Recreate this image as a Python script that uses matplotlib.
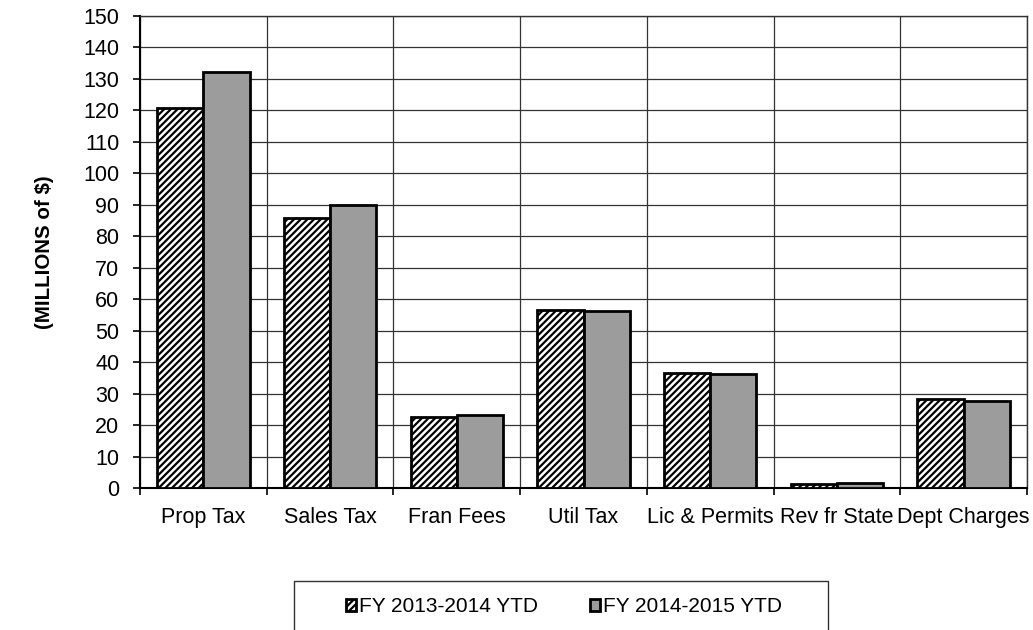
import numpy as np
import matplotlib.pyplot as plt
from matplotlib.patches import Rectangle

plt.rcParams['font.family'] = ['Liberation Sans', 'DejaVu Sans']
plt.rcParams['hatch.linewidth'] = 1.6

categories = ['Prop Tax', 'Sales Tax', 'Fran Fees', 'Util Tax',
              'Lic & Permits', 'Rev fr State', 'Dept Charges']
fy_2013_2014 = [120.7, 85.8, 22.5, 56.5, 36.5, 1.2, 28.3]
fy_2014_2015 = [132.2, 89.9, 23.3, 56.3, 36.1, 1.5, 27.6]
series_labels = ['FY 2013-2014 YTD', 'FY 2014-2015 YTD']

W, H = 1033, 630
fig = plt.figure(figsize=(W / 100, H / 100), dpi=100)
ax = fig.add_axes([140 / W, 1 - 488 / H, 887 / W, 472 / H])

x = np.arange(len(categories))
w = 0.365
b1 = ax.bar(x - w / 2, fy_2013_2014, w, color='white', edgecolor='black',
            hatch='/////', linewidth=2, label=series_labels[0], zorder=3)
b2 = ax.bar(x + w / 2, fy_2014_2015, w, color='#9c9c9c', edgecolor='black',
            linewidth=2, label=series_labels[1], zorder=3)

ax.set_xlim(-0.5, len(categories) - 0.5)
ax.set_ylim(0, 150)
ax.set_yticks(np.arange(0, 151, 10))
ax.tick_params(axis='y', labelsize=15.5, direction='out', length=5, width=1.2, pad=10)

# category boundaries get the gridlines and tick marks
ax.set_xticks(np.arange(-0.5, len(categories), 1))
ax.set_xticklabels([])
ax.set_xticks(x, minor=True)
ax.set_xticklabels(categories, minor=True, fontsize=15.5)
ax.tick_params(axis='x', which='major', direction='out', length=5, width=1.2)
ax.tick_params(axis='x', which='minor', length=0, pad=14)

ax.grid(True, which='major', color='#333333', linewidth=0.9, zorder=0)
for s in ax.spines.values():
    s.set_color('#333333')
    s.set_linewidth(1)
ax.spines['left'].set_color('black')
ax.spines['left'].set_linewidth(1.5)
ax.spines['bottom'].set_color('black')
ax.spines['bottom'].set_linewidth(1.5)

fig.text(45 / W, 1 - 252 / H, '(MILLIONS of $)', rotation=90, fontsize=14.8,
         fontweight='bold', ha='center', va='center')

# legend box (runs off the bottom edge like the original scan)
fig.patches.append(Rectangle((294 / W, 1 - 634 / H), 534 / W, 53 / H,
                             transform=fig.transFigure, facecolor='white',
                             edgecolor='#333333', linewidth=1))
leg = fig.legend(handles=[b1, b2], labels=series_labels, loc='center left',
                 bbox_to_anchor=(346 / W, 1 - 607 / H), ncol=2, fontsize=15,
                 frameon=False, handlelength=0.5, handleheight=0.5,
                 handletextpad=0.12, columnspacing=2.5, borderpad=0,
                 borderaxespad=0)

fig.savefig('out.png', dpi=100)
